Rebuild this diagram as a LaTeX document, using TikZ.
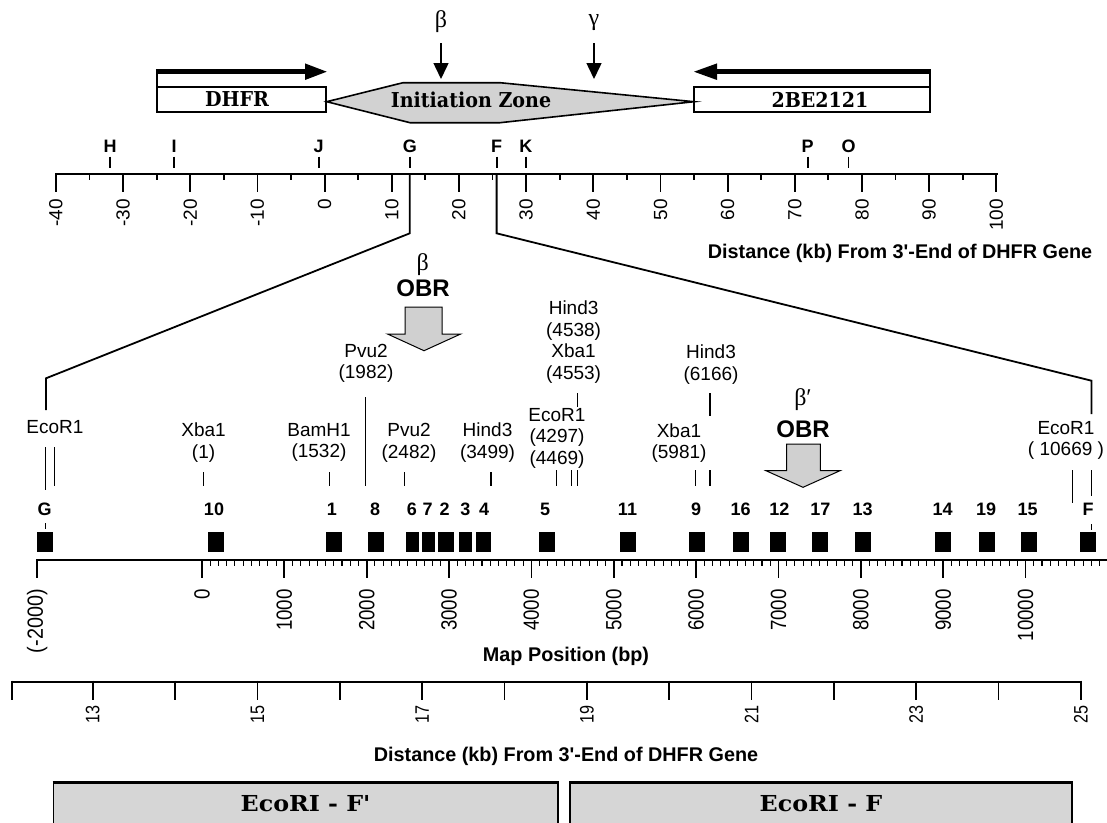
\documentclass[tikz,border=0pt]{standalone}
\usepackage{fontspec}
\usepackage{graphicx}
\setmainfont{Liberation Sans}
\newfontfamily\greekf{Liberation Serif}
\newfontfamily\slabf{DejaVu Serif}
\usetikzlibrary{arrows.meta}
\definecolor{zonegray}{HTML}{D2D2D2}
\definecolor{boxgray}{HTML}{D6D6D6}
\definecolor{obrgray}{HTML}{D0D0D0}
\tikzset{
  axisline/.style={line width=2pt},
  tk/.style={line width=1.8pt},
  site/.style={line width=1.3pt},
  zoomline/.style={line width=1.8pt, line join=miter},
  lab/.style={font=\fontsize{19}{21.7}\selectfont, align=center, inner sep=0pt},
  num/.style={font=\bfseries\fontsize{18}{20}\selectfont, inner sep=0pt},
  letter/.style={font=\bfseries\fontsize{18}{20}\selectfont, inner sep=0pt},
  toplab/.style={font=\fontsize{19}{20}\selectfont, inner sep=0pt, rotate=90, anchor=east},
  lowlab/.style={font=\fontsize{22}{22}\selectfont, inner sep=0pt, rotate=90, anchor=east},
  kblab/.style={font=\fontsize{19.5}{20}\selectfont, inner sep=0pt, rotate=90, anchor=east},
  title/.style={font=\bfseries\fontsize{19.8}{22}\selectfont, inner sep=0pt},
  slab/.style={font=\slabf\bfseries\fontsize{20.5}{22}\selectfont, inner sep=0pt},
  boxslab/.style={font=\slabf\bfseries\fontsize{22}{24}\selectfont, inner sep=0pt},
  greek/.style={font=\greekf\fontsize{24}{24}\selectfont, inner sep=0pt},
  obr/.style={font=\bfseries\fontsize{24}{26}\selectfont, inner sep=0pt},
  sqr/.style={fill=black, draw=none},
  obrarrow/.style={fill=obrgray, draw=black, line width=1pt, line join=miter},
}
\begin{document}
\begin{tikzpicture}[x=1pt,y=-1pt]
\path[use as bounding box, fill=white] (0,0) rectangle (1107,822);

% ---------- top gene map ----------
\node[greek] (beta) at (441,22) {β};
\node[greek] (gamma) at (594,23) {γ};
\coordinate (bA) at (441,43); \coordinate (bB) at (441,79);
\coordinate (gA) at (594,43); \coordinate (gB) at (594,79);
\draw[line width=1.5pt, -{Triangle[length=16pt,width=15pt]}] (bA) -- (bB);
\draw[line width=1.5pt, -{Triangle[length=16pt,width=15pt]}] (gA) -- (gB);

% Initiation zone hexagon
\draw[fill=zonegray, line width=1.6pt, line join=miter]
  (326.7,101.7) -- (403,82.7) -- (500,82.7) -- (694,101.7) -- (500,122.7) -- (410,122.7) -- cycle;
\node[slab] (iz) at (471,99.5) {\scalebox{0.93}[1]{Initiation Zone}};

% DHFR
\draw[line width=1.8pt] (156.7,86.7) rectangle (326,111.7);
\node[slab] (dhfr) at (237,99.5) {\scalebox{0.93}[1]{DHFR}};
\draw[line width=1.6pt] (156.7,71.7) -- (156.7,86.7);
\draw[line width=5pt] (155.9,71.7) -- (306,71.7);
\fill (305,63.4) -- (326.7,71.7) -- (305,80) -- cycle;

% 2BE2121
\draw[line width=1.8pt] (694,86.7) rectangle (929.7,111.7);
\node[slab] (gene2) at (820,99.5) {\scalebox{0.93}[1]{2BE2121}};
\draw[line width=1.6pt] (929.7,71.7) -- (929.7,86.7);
\draw[line width=5pt] (930.5,71.7) -- (716,71.7);
\fill (717,63.4) -- (694,71.7) -- (717,80) -- cycle;

% ---------- top kb axis ----------
\draw[axisline] (55.6,174.3) -- (997.7,174.3);
\foreach \v in {-40,-30,...,100} {
  \pgfmathsetmacro\xx{324.6+6.717*\v}
  \draw[tk] (\xx,173.3) -- (\xx,191.7);
  \node[toplab] at (\xx,199) {\v};
}
\foreach \v in {-35,-25,...,95} {
  \pgfmathsetmacro\xx{324.6+6.717*\v}
  \draw[tk] (\xx,173.3) -- (\xx,179.5);
}
\foreach \L/\xx in {H/110.2, I/174, J/318.6, G/409.8, F/496.6, K/525.9, P/807.6, O/848.5} {
  \node[letter] (top\L) at (\xx,146.7) {\L};
  \draw[tk] (\xx,156.7) -- (\xx,167.7);
}
\node[title] (dist1) at (900,253) {Distance (kb) From 3\textquotesingle-End of DHFR Gene};

% ---------- zoom lines ----------
\coordinate (gTop) at (409.8,174.3);
\coordinate (gBend) at (409.8,233.3);
\coordinate (gLeft) at (46,378.3);
\coordinate (gEnd) at (46,410);
\coordinate (fTop) at (496.6,174.3);
\coordinate (fBend) at (496.6,233.3);
\coordinate (fRight) at (1091.5,380.7);
\coordinate (fEnd) at (1091.5,414);
\draw[zoomline] (gTop) -- (gBend) -- (gLeft) -- (gEnd);
\draw[zoomline] (fTop) -- (fBend) -- (fRight) -- (fEnd);

% ---------- OBR arrows ----------
\node[greek] (beta2) at (422.6,265) {β};
\node[obr] (obr1) at (423,288) {OBR};
\draw[obrarrow] (405,307) -- (442,307) -- (442,334) -- (460.7,334) -- (424,350.7) -- (387.5,334) -- (405,334) -- cycle;
\node[greek] (betap) at (803,400) {β′};
\node[obr] (obr2) at (803,429.3) {OBR};
\draw[obrarrow] (786.7,444) -- (820.3,444) -- (820.3,470.7) -- (840,470.7) -- (803,487.3) -- (766,470.7) -- (786.7,470.7) -- cycle;

% ---------- restriction sites ----------
\node[lab] (ecoL) at (55,427) {EcoR1};
\node[lab] (xbaA) at (203.6,442.5) {Xba1\\(1)};
\node[lab] (bam) at (319,442.5) {BamH1\\(1532)};
\node[lab] (pvuA) at (366,363.3) {Pvu2\\(1982)};
\node[lab] (pvuB) at (409,442.5) {Pvu2\\(2482)};
\node[lab] (hindA) at (487.5,442.5) {Hind3\\(3499)};
\node[lab] (hx) at (573.6,342) {Hind3\\(4538)\\Xba1\\(4553)};
\node[lab] (ecoM) at (557,438.3) {EcoR1\\(4297)\\(4469)};
\node[lab] (xbaB) at (679,443) {Xba1\\(5981)};
\node[lab] (hindB) at (711,364.5) {Hind3\\(6166)};
\node[lab] (ecoR) at (1066,440.5) {EcoR1\\( 10669 )};

\draw[site] (45.7,447) -- (45.7,490);
\draw[site] (54.3,447) -- (54.3,486);
\draw[site] (203.6,472) -- (203.6,486);
\draw[site] (329.6,472) -- (329.6,486);
\draw[site] (365.4,397) -- (365.4,486);
\draw[site] (404.6,472) -- (404.6,486);
\draw[site] (491,472) -- (491,486);
\draw[site] (556.3,470) -- (556.3,486);
\draw[site] (571.8,470) -- (571.8,486);
\draw[site] (577.3,470) -- (577.3,486);
\draw[site] (577.3,393) -- (577.3,406.7);
\draw[site] (695.5,470) -- (695.5,486);
\draw[site] (710,470) -- (710,486);
\draw[site] (710,393.3) -- (710,416);
\draw[site] (1072.4,470) -- (1072.4,503);
\draw[site] (1091.5,470) -- (1091.5,496);
\draw[site] (45.7,523) -- (45.7,528.5);
\draw[site] (1091.5,524) -- (1091.5,530);

% ---------- fragment squares ----------
\foreach \n/\lx/\sx/\w in {G/44.6/45/16, 10/214/215.5/16, 1/332/333.7/16, 8/375/376.3/16,
    6/411.8/412.3/13, 7/427.5/428.3/13, 2/444.6/445.5/16, 3/465.4/465.5/12.5, 4/484/483.4/15.5,
    5/545/547/16, 11/627.5/627.7/16, 9/696/697.4/16, 16/740.7/740.9/16, 12/779.4/777.8/16,
    17/820.3/820.3/16, 13/862.6/862.7/16, 14/942.5/943/16, 19/986/986.5/16, 15/1027.5/1028.8/16,
    F/1088/1087.8/16} {
  \node[num] (nm\n) at (\lx,509) {\n};
  \fill[sqr] ({\sx-\w/2},531.7) rectangle ({\sx+\w/2},551.7);
}

% ---------- map position axis ----------
\draw[axisline] (37.3,560) -- (1107,560);
\draw[tk] (37.3,559) -- (37.3,578.3);
\node[lowlab] (m2000) at (37.3,589) {\scalebox{0.9}[1]{(-2000)}};
\foreach \v in {100,200,...,10900} {
  \pgfmathsetmacro\xx{202+0.08235*\v}
  \draw[line width=1.1pt] (\xx,559) -- (\xx,565.5);
}
\foreach \v in {0,1000,...,10000} {
  \pgfmathsetmacro\xx{202+0.08235*\v}
  \draw[tk] (\xx,559) -- (\xx,578.3);
  \node[lowlab] at (\xx,589) {\scalebox{0.85}[1]{\v}};
}
\node[title] (mappos) at (566,656) {Map Position (bp)};

% ---------- lower kb axis ----------
\draw[axisline] (11.7,681.7) -- (1081.9,681.7);
\draw[tk] (11.7,680.7) -- (11.7,700);
\foreach \k in {13,...,25} {
  \pgfmathsetmacro\xx{92.7+82.35*(\k-13)}
  \draw[tk] (\xx,680.7) -- (\xx,700);
}
\foreach \k in {13,15,...,25} {
  \pgfmathsetmacro\xx{92.7+82.35*(\k-13)}
  \node[kblab] at (\xx,705) {\scalebox{0.83}[1]{\k}};
}
\node[title] (dist2) at (566,756) {Distance (kb) From 3\textquotesingle-End of DHFR Gene};

% ---------- EcoRI boxes ----------
\draw[fill=boxgray, line width=1.5pt] (53.3,830) -- (53.3,781.7) -- (558,781.7) -- (558,830);
\draw[line width=3pt] (52.5,782) -- (558.8,782);
\node[boxslab] (ecoFp) at (305.6,804) {\scalebox{1.08}[1]{EcoRI - F\textquotesingle}};
\draw[fill=boxgray, line width=1.5pt] (570,830) -- (570,781.7) -- (1072,781.7) -- (1072,830);
\draw[line width=3pt] (569.2,782) -- (1072.8,782);
\node[boxslab] (ecoF) at (821,804) {\scalebox{1.08}[1]{EcoRI - F}};
\end{tikzpicture}
\end{document}
